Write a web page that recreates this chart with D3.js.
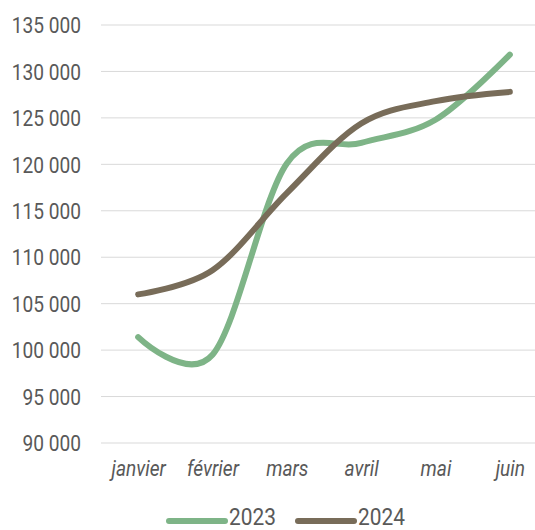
<!DOCTYPE html>
<html>
<head>
<meta charset="UTF-8">
<title>2023 / 2024</title>
<script src="https://d3js.org/d3.v7.min.js"></script>
<style>
  body { margin: 0; background: #fff; }
  svg { display: block; font-family: Roboto, sans-serif; }
</style>
</head>
<body>
<svg width="535" height="530"></svg>
<script>
const months = ["janvier", "février", "mars", "avril", "mai", "juin"];
const values2023 = [101400, 99500, 120100, 122300, 124800, 131800];
const values2024 = [106000, 108600, 116900, 124400, 126800, 127800];
const yTicks = [90000, 95000, 100000, 105000, 110000, 115000, 120000, 125000, 130000, 135000];

const series = [
  {name: "2023", values: values2023, color: "#7eb487"},
  {name: "2024", values: values2024, color: "#786c59"}
];

const svg = d3.select("svg");
const textColor = "#595959";
const squeeze = 0.87; // the labels look narrower than plain Roboto

const x = d3.scalePoint().domain(months).range([101, 547]).padding(0.5);
const y = d3.scaleLinear().domain([90000, 135000]).range([443, 25]);

// gridlines
svg.append("g")
  .selectAll("line")
  .data(yTicks)
  .join("line")
  .attr("x1", 101).attr("x2", 535)
  .attr("y1", d => y(d)).attr("y2", d => y(d))
  .attr("stroke", "#d9d9d9")
  .attr("stroke-width", 1);

// y axis
const fmt = d => d3.format(",")(d).replace(",", " ");
const yAxis = svg.append("g")
  .attr("transform", "translate(81,0)")
  .call(d3.axisLeft(y).tickValues(yTicks).tickFormat(fmt).tickSize(0).tickPadding(0));
yAxis.select(".domain").remove();
yAxis.selectAll("text")
  .attr("x", 0)
  .attr("dy", "0.35em")
  .attr("transform", `scale(${squeeze},1)`)
  .attr("fill", textColor)
  .style("font-size", "22px")
  .style("font-family", "Roboto, sans-serif");

// x axis
const xAxis = svg.append("g")
  .attr("transform", "translate(0,476)")
  .call(d3.axisBottom(x).tickSize(0).tickPadding(0));
xAxis.select(".domain").remove();
xAxis.selectAll("text")
  .attr("y", 0)
  .attr("dy", 0)
  .attr("transform", `scale(${squeeze},1)`)
  .attr("fill", textColor)
  .style("font-size", "22px")
  .style("font-style", "italic")
  .style("font-family", "Roboto, sans-serif");

// lines
const line = d3.line()
  .x((d, i) => x(months[i]))
  .y(d => y(d))
  .curve(d3.curveCardinal.tension(0));

svg.append("g")
  .selectAll("path")
  .data(series)
  .join("path")
  .attr("d", d => line(d.values))
  .attr("fill", "none")
  .attr("stroke", d => d.color)
  .attr("stroke-width", 6)
  .attr("stroke-linecap", "round")
  .attr("stroke-linejoin", "round");

// legend
const legend = svg.append("g").attr("transform", "translate(169,521)");
const item = legend.selectAll("g")
  .data(series)
  .join("g")
  .attr("transform", (d, i) => `translate(${i * 129},0)`);
item.append("line")
  .attr("x1", 0).attr("x2", 56)
  .attr("stroke", d => d.color)
  .attr("stroke-width", 6)
  .attr("stroke-linecap", "round");
item.append("text")
  .attr("transform", `translate(60,4) scale(${squeeze},1)`)
  .attr("fill", textColor)
  .style("font-size", "24px")
  .text(d => d.name);
</script>
</body>
</html>
